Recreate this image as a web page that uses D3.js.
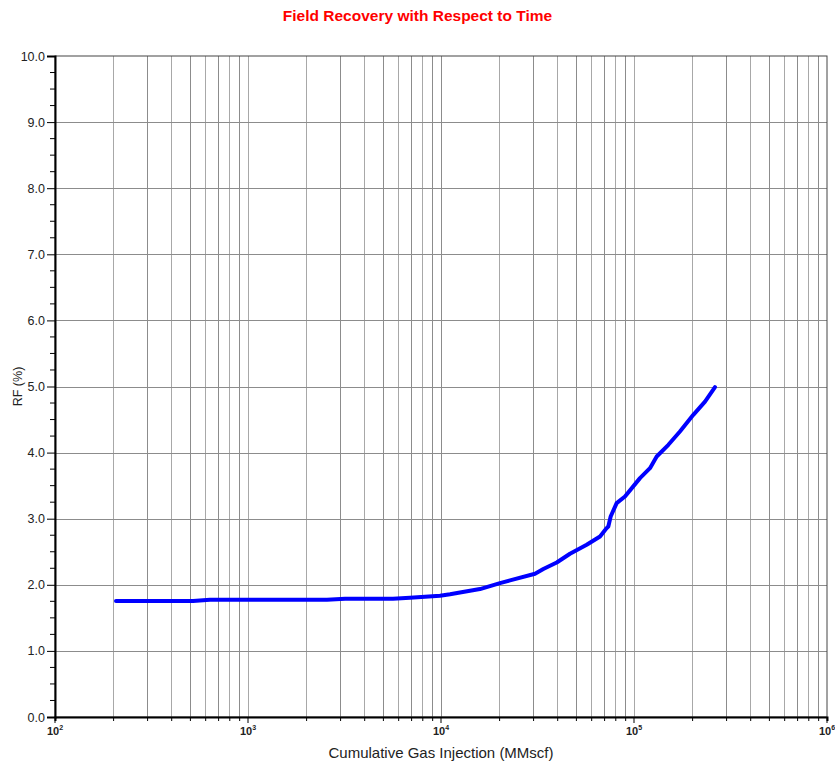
<!DOCTYPE html>
<html>
<head>
<meta charset="utf-8">
<script src="https://cdn.jsdelivr.net/npm/d3@7"></script>
<style>
  body { margin: 0; background: #fff; }
  text { font-family: Arial, "Liberation Sans", sans-serif; }
</style>
</head>
<body>
<div id="chart"></div>
<script>
// data
var gasInjection = [207, 519, 635, 2564, 3184, 5640, 6900, 8260, 9880, 11140, 12540, 15920,
    20210, 22790, 30710, 33900, 39780, 46600, 56870, 66680, 72200, 73600, 75700, 81300,
    89800, 107400, 121000, 131100, 150700, 173000, 202900, 233300, 262800];
var recoveryFactor = [1.754, 1.754, 1.774, 1.774, 1.789, 1.789, 1.804, 1.819, 1.834, 1.857, 1.884, 1.935,
    2.026, 2.066, 2.167, 2.238, 2.338, 2.469, 2.605, 2.731, 2.858, 2.882, 3.033, 3.236,
    3.336, 3.614, 3.765, 3.941, 4.118, 4.319, 4.571, 4.772, 4.990];
var xDecades = [2, 3, 4, 5, 6];
var yTicks = [0, 1, 2, 3, 4, 5, 6, 7, 8, 9, 10];

var width = 835, height = 765;
var margin = { top: 56, right: 8, bottom: 48, left: 55 };
var plotW = width - margin.left - margin.right,
    plotH = height - margin.top - margin.bottom;

var svg = d3.select("#chart").append("svg")
    .attr("width", width)
    .attr("height", height);

var x = d3.scaleLog().domain([1e2, 1e6]).range([0, plotW]);
var y = d3.scaleLinear().domain([0, 10]).range([plotH, 0]);

var g = svg.append("g")
    .attr("transform", `translate(${margin.left},${margin.top})`);

// minor log positions
var xMinor = [];
xDecades.slice(0, -1).forEach(p => {
    for (var k = 2; k <= 9; k++) xMinor.push(k * Math.pow(10, p));
});
var xMajor = xDecades.map(p => Math.pow(10, p));

// grid
g.selectAll(".vgrid")
    .data(xMinor.concat(xMajor.slice(1, -1)))
    .enter().append("line")
    .attr("x1", d => Math.round(x(d)) + 0.5)
    .attr("x2", d => Math.round(x(d)) + 0.5)
    .attr("y1", 0)
    .attr("y2", plotH)
    .attr("stroke", (d, i) => (i % 2 ? "#8c8c8c" : "#a8a8a8"))
    .attr("stroke-width", 1);

g.selectAll(".hgrid")
    .data(yTicks.slice(1, -1))
    .enter().append("line")
    .attr("x1", 0)
    .attr("x2", plotW)
    .attr("y1", d => Math.round(y(d)) + 0.5)
    .attr("y2", d => Math.round(y(d)) + 0.5)
    .attr("stroke", "#8c8c8c")
    .attr("stroke-width", 1);

// frame
g.append("rect")
    .attr("x", 0).attr("y", 0)
    .attr("width", plotW).attr("height", plotH)
    .attr("fill", "none")
    .attr("stroke", "#444")
    .attr("stroke-width", 1);

// y axis
var yAxis = d3.axisLeft(y)
    .tickValues(yTicks)
    .tickFormat(d3.format(".1f"))
    .tickSize(8)
    .tickPadding(2);
var ya = g.append("g").call(yAxis);
ya.select(".domain").attr("stroke", "#000").attr("stroke-width", 2);
ya.selectAll("text").attr("font-size", 12.5).attr("fill", "#222")
    .attr("font-family", "Arial, 'Liberation Sans', sans-serif");

var yMinor = d3.range(0, 10, 0.25).filter(v => v % 1 !== 0);
ya.selectAll(".minor")
    .data(yMinor)
    .enter().append("line")
    .attr("x1", -5).attr("x2", 0)
    .attr("y1", d => y(d)).attr("y2", d => y(d))
    .attr("stroke", "#000");

// x axis
var xAxis = d3.axisBottom(x)
    .tickValues(xMinor)
    .tickSize(4)
    .tickFormat("");
var xa = g.append("g")
    .attr("transform", `translate(0,${plotH})`)
    .call(xAxis);
xa.select(".domain").attr("stroke", "#000").attr("stroke-width", 2);

var xlab = g.append("g")
    .attr("transform", `translate(0,${plotH})`)
    .selectAll("g.xl")
    .data(xDecades)
    .enter().append("g")
    .attr("transform", d => `translate(${x(Math.pow(10, d))},0)`);
xlab.append("line").attr("y1", 0).attr("y2", 6).attr("stroke", "#000");
xlab.append("text")
    .attr("y", 18)
    .attr("text-anchor", "middle")
    .attr("font-size", 11)
    .attr("font-weight", "bold")
    .attr("fill", "#222")
    .each(function(d) {
        var t = d3.select(this);
        t.append("tspan").text("10");
        t.append("tspan").attr("dy", -5).attr("font-size", 7).text(d);
    });

// curve
var pts = gasInjection.map((v, i) => [v, recoveryFactor[i]]);
g.append("path")
    .datum(pts)
    .attr("fill", "none")
    .attr("stroke", "#0000ff")
    .attr("stroke-width", 4)
    .attr("stroke-linejoin", "round")
    .attr("stroke-linecap", "round")
    .attr("d", d3.line().x(d => x(d[0])).y(d => y(d[1])));

// titles
svg.append("text")
    .attr("x", width / 2)
    .attr("y", 21)
    .attr("text-anchor", "middle")
    .attr("font-size", 15.5)
    .attr("font-weight", "bold")
    .attr("fill", "#ff0000")
    .text("Field Recovery with Respect to Time");

svg.append("text")
    .attr("x", margin.left + plotW / 2)
    .attr("y", 758)
    .attr("text-anchor", "middle")
    .attr("font-size", 15)
    .attr("fill", "#222")
    .text("Cumulative Gas Injection (MMscf)");

svg.append("text")
    .attr("transform", `translate(22,${margin.top + plotH / 2}) rotate(-90)`)
    .attr("text-anchor", "middle")
    .attr("font-size", 12.5)
    .attr("fill", "#222")
    .text("RF (%)");
</script>
</body>
</html>
